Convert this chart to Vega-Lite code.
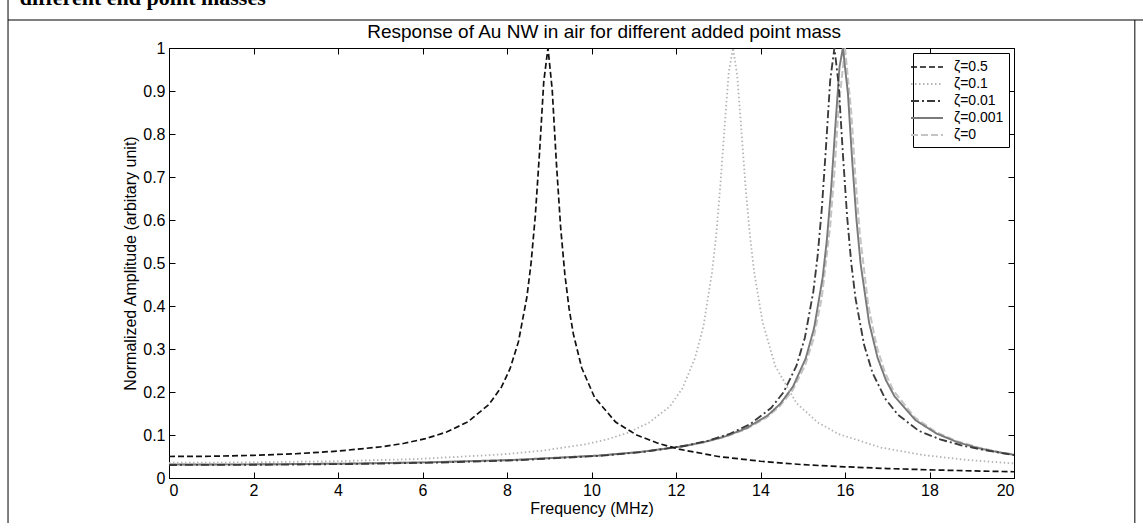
{
  "$schema": "https://vega.github.io/schema/vega-lite/v6.json",
  "width": 845,
  "height": 430,
  "autosize": {"type": "none"},
  "padding": {"left": 169, "top": 48, "right": 129, "bottom": 45},
  "background": "white",
  "config": {
    "view": {"stroke": "black", "strokeWidth": 1},
    "font": "Liberation Sans",
    "axis": {
      "grid": false,
      "domainColor": "black",
      "tickColor": "black",
      "labelColor": "black",
      "labelFont": "Liberation Sans",
      "labelFontSize": 16,
      "titleFont": "Liberation Sans",
      "titleFontSize": 16,
      "titleFontWeight": "normal",
      "titleColor": "black",
      "tickSize": -6,
      "labelPadding": 10
    },
    "legend": {
      "labelFont": "Liberation Sans",
      "labelFontSize": 14,
      "labelColor": "black"
    }
  },
  "resolve": {"axis": {"x": "independent", "y": "independent"}},
  "layer": [
    {
      "data": {
        "values": [
          {"s": "ζ=0", "f": 0, "a": 0.0313}, {"s": "ζ=0", "f": 2.15, "a": 0.0318}, {"s": "ζ=0", "f": 4.15, "a": 0.0334}, {"s": "ζ=0", "f": 6.15, "a": 0.0365}, {"s": "ζ=0", "f": 8.15, "a": 0.0419}, {"s": "ζ=0", "f": 10.15, "a": 0.0519}, {"s": "ζ=0", "f": 11.15, "a": 0.0603}, {"s": "ζ=0", "f": 12.15, "a": 0.0731}, {"s": "ζ=0", "f": 12.65, "a": 0.0825}, {"s": "ζ=0", "f": 13.15, "a": 0.0952}, {"s": "ζ=0", "f": 13.65, "a": 0.1133}, {"s": "ζ=0", "f": 14.15, "a": 0.1411}, {"s": "ζ=0", "f": 14.45, "a": 0.1661}, {"s": "ζ=0", "f": 14.75, "a": 0.2026}, {"s": "ζ=0", "f": 15.05, "a": 0.2606}, {"s": "ζ=0", "f": 15.25, "a": 0.322}, {"s": "ζ=0", "f": 15.45, "a": 0.4191}, {"s": "ζ=0", "f": 15.65, "a": 0.5863}, {"s": "ζ=0", "f": 15.75, "a": 0.7124}, {"s": "ζ=0", "f": 15.85, "a": 0.8627}, {"s": "ζ=0", "f": 16.0, "a": 1.0}, {"s": "ζ=0", "f": 16.15, "a": 0.8487}, {"s": "ζ=0", "f": 16.25, "a": 0.6954}, {"s": "ζ=0", "f": 16.35, "a": 0.5693}, {"s": "ζ=0", "f": 16.55, "a": 0.4024}, {"s": "ζ=0", "f": 16.75, "a": 0.3056}, {"s": "ζ=0", "f": 16.95, "a": 0.2444}, {"s": "ζ=0", "f": 17.15, "a": 0.2028}, {"s": "ζ=0", "f": 17.65, "a": 0.1409}, {"s": "ζ=0", "f": 18.15, "a": 0.1071}, {"s": "ζ=0", "f": 18.65, "a": 0.0858}, {"s": "ζ=0", "f": 19.15, "a": 0.0712}, {"s": "ζ=0", "f": 19.65, "a": 0.0607}, {"s": "ζ=0", "f": 20, "a": 0.055},

          {"s": "ζ=0.001", "f": 0, "a": 0.0313}, {"s": "ζ=0.001", "f": 2.17, "a": 0.0318}, {"s": "ζ=0.001", "f": 4.17, "a": 0.0334}, {"s": "ζ=0.001", "f": 6.17, "a": 0.0365}, {"s": "ζ=0.001", "f": 8.17, "a": 0.0421}, {"s": "ζ=0.001", "f": 10.17, "a": 0.0522}, {"s": "ζ=0.001", "f": 11.17, "a": 0.0607}, {"s": "ζ=0.001", "f": 12.17, "a": 0.074}, {"s": "ζ=0.001", "f": 12.67, "a": 0.0837}, {"s": "ζ=0.001", "f": 13.17, "a": 0.0969}, {"s": "ζ=0.001", "f": 13.67, "a": 0.116}, {"s": "ζ=0.001", "f": 14.17, "a": 0.1456}, {"s": "ζ=0.001", "f": 14.47, "a": 0.1727}, {"s": "ζ=0.001", "f": 14.77, "a": 0.2128}, {"s": "ζ=0.001", "f": 15.07, "a": 0.2781}, {"s": "ζ=0.001", "f": 15.27, "a": 0.3493}, {"s": "ζ=0.001", "f": 15.47, "a": 0.4654}, {"s": "ζ=0.001", "f": 15.57, "a": 0.553}, {"s": "ζ=0.001", "f": 15.67, "a": 0.6697}, {"s": "ζ=0.001", "f": 15.77, "a": 0.8153}, {"s": "ζ=0.001", "f": 15.87, "a": 0.956}, {"s": "ζ=0.001", "f": 15.95, "a": 1.0}, {"s": "ζ=0.001", "f": 16.07, "a": 0.8934}, {"s": "ζ=0.001", "f": 16.17, "a": 0.7383}, {"s": "ζ=0.001", "f": 16.27, "a": 0.6023}, {"s": "ζ=0.001", "f": 16.37, "a": 0.4979}, {"s": "ζ=0.001", "f": 16.57, "a": 0.3614}, {"s": "ζ=0.001", "f": 16.77, "a": 0.2801}, {"s": "ζ=0.001", "f": 16.97, "a": 0.2272}, {"s": "ζ=0.001", "f": 17.17, "a": 0.1904}, {"s": "ζ=0.001", "f": 17.67, "a": 0.1344}, {"s": "ζ=0.001", "f": 18.17, "a": 0.1031}, {"s": "ζ=0.001", "f": 18.67, "a": 0.083}, {"s": "ζ=0.001", "f": 19.17, "a": 0.0692}, {"s": "ζ=0.001", "f": 19.67, "a": 0.0591}, {"s": "ζ=0.001", "f": 20, "a": 0.054},

          {"s": "ζ=0.01", "f": 0, "a": 0.0303}, {"s": "ζ=0.01", "f": 2.25, "a": 0.0308}, {"s": "ζ=0.01", "f": 4.25, "a": 0.0325}, {"s": "ζ=0.01", "f": 6.25, "a": 0.0356}, {"s": "ζ=0.01", "f": 8.25, "a": 0.0413}, {"s": "ζ=0.01", "f": 10.25, "a": 0.0519}, {"s": "ζ=0.01", "f": 11.25, "a": 0.061}, {"s": "ζ=0.01", "f": 12.25, "a": 0.0755}, {"s": "ζ=0.01", "f": 12.75, "a": 0.0865}, {"s": "ζ=0.01", "f": 13.25, "a": 0.1018}, {"s": "ζ=0.01", "f": 13.75, "a": 0.1248}, {"s": "ζ=0.01", "f": 14.25, "a": 0.1627}, {"s": "ζ=0.01", "f": 14.55, "a": 0.2001}, {"s": "ζ=0.01", "f": 14.85, "a": 0.2606}, {"s": "ζ=0.01", "f": 15.05, "a": 0.3262}, {"s": "ζ=0.01", "f": 15.25, "a": 0.4333}, {"s": "ζ=0.01", "f": 15.35, "a": 0.5145}, {"s": "ζ=0.01", "f": 15.45, "a": 0.6249}, {"s": "ζ=0.01", "f": 15.55, "a": 0.7696}, {"s": "ζ=0.01", "f": 15.65, "a": 0.9256}, {"s": "ζ=0.01", "f": 15.75, "a": 1.0}, {"s": "ζ=0.01", "f": 15.85, "a": 0.9146}, {"s": "ζ=0.01", "f": 15.95, "a": 0.7536}, {"s": "ζ=0.01", "f": 16.05, "a": 0.6082}, {"s": "ζ=0.01", "f": 16.15, "a": 0.498}, {"s": "ζ=0.01", "f": 16.25, "a": 0.4172}, {"s": "ζ=0.01", "f": 16.45, "a": 0.3103}, {"s": "ζ=0.01", "f": 16.65, "a": 0.2449}, {"s": "ζ=0.01", "f": 16.95, "a": 0.1846}, {"s": "ζ=0.01", "f": 17.25, "a": 0.1474}, {"s": "ζ=0.01", "f": 17.75, "a": 0.1095}, {"s": "ζ=0.01", "f": 18.25, "a": 0.09}, {"s": "ζ=0.01", "f": 18.75, "a": 0.076}, {"s": "ζ=0.01", "f": 19.25, "a": 0.066}, {"s": "ζ=0.01", "f": 20, "a": 0.053},

          {"s": "ζ=0.1", "f": 0, "a": 0.0354}, {"s": "ζ=0.1", "f": 1.85, "a": 0.0362}, {"s": "ζ=0.1", "f": 3.85, "a": 0.0388}, {"s": "ζ=0.1", "f": 5.85, "a": 0.0441}, {"s": "ζ=0.1", "f": 7.85, "a": 0.0546}, {"s": "ζ=0.1", "f": 8.85, "a": 0.0637}, {"s": "ζ=0.1", "f": 9.85, "a": 0.0783}, {"s": "ζ=0.1", "f": 10.35, "a": 0.0893}, {"s": "ζ=0.1", "f": 10.85, "a": 0.1049}, {"s": "ζ=0.1", "f": 11.35, "a": 0.128}, {"s": "ζ=0.1", "f": 11.85, "a": 0.166}, {"s": "ζ=0.1", "f": 12.15, "a": 0.208}, {"s": "ζ=0.1", "f": 12.45, "a": 0.279}, {"s": "ζ=0.1", "f": 12.65, "a": 0.353}, {"s": "ζ=0.1", "f": 12.85, "a": 0.477}, {"s": "ζ=0.1", "f": 12.95, "a": 0.563}, {"s": "ζ=0.1", "f": 13.05, "a": 0.681}, {"s": "ζ=0.1", "f": 13.15, "a": 0.817}, {"s": "ζ=0.1", "f": 13.25, "a": 0.945}, {"s": "ζ=0.1", "f": 13.35, "a": 1.0}, {"s": "ζ=0.1", "f": 13.45, "a": 0.9353}, {"s": "ζ=0.1", "f": 13.55, "a": 0.805}, {"s": "ζ=0.1", "f": 13.65, "a": 0.6727}, {"s": "ζ=0.1", "f": 13.75, "a": 0.5642}, {"s": "ζ=0.1", "f": 13.85, "a": 0.4791}, {"s": "ζ=0.1", "f": 14.05, "a": 0.3621}, {"s": "ζ=0.1", "f": 14.35, "a": 0.2604}, {"s": "ζ=0.1", "f": 14.85, "a": 0.1743}, {"s": "ζ=0.1", "f": 15.35, "a": 0.1295}, {"s": "ζ=0.1", "f": 15.85, "a": 0.1022}, {"s": "ζ=0.1", "f": 16.85, "a": 0.0708}, {"s": "ζ=0.1", "f": 17.85, "a": 0.0534}, {"s": "ζ=0.1", "f": 18.85, "a": 0.0424}, {"s": "ζ=0.1", "f": 19.85, "a": 0.0348}, {"s": "ζ=0.1", "f": 20, "a": 0.034},

          {"s": "ζ=0.5", "f": 0, "a": 0.05}, {"s": "ζ=0.5", "f": 1, "a": 0.0506}, {"s": "ζ=0.5", "f": 2, "a": 0.0527}, {"s": "ζ=0.5", "f": 3, "a": 0.0564}, {"s": "ζ=0.5", "f": 4, "a": 0.0626}, {"s": "ζ=0.5", "f": 5.07, "a": 0.073}, {"s": "ζ=0.5", "f": 5.57, "a": 0.0808}, {"s": "ζ=0.5", "f": 6.07, "a": 0.0915}, {"s": "ζ=0.5", "f": 6.57, "a": 0.1068}, {"s": "ζ=0.5", "f": 7.07, "a": 0.1304}, {"s": "ζ=0.5", "f": 7.57, "a": 0.1707}, {"s": "ζ=0.5", "f": 7.87, "a": 0.2118}, {"s": "ζ=0.5", "f": 8.07, "a": 0.2536}, {"s": "ζ=0.5", "f": 8.27, "a": 0.3165}, {"s": "ζ=0.5", "f": 8.47, "a": 0.4203}, {"s": "ζ=0.5", "f": 8.57, "a": 0.5}, {"s": "ζ=0.5", "f": 8.67, "a": 0.6096}, {"s": "ζ=0.5", "f": 8.77, "a": 0.7569}, {"s": "ζ=0.5", "f": 8.87, "a": 0.9217}, {"s": "ζ=0.5", "f": 8.97, "a": 1.0}, {"s": "ζ=0.5", "f": 9.07, "a": 0.903}, {"s": "ζ=0.5", "f": 9.17, "a": 0.731}, {"s": "ζ=0.5", "f": 9.27, "a": 0.5824}, {"s": "ζ=0.5", "f": 9.37, "a": 0.4729}, {"s": "ζ=0.5", "f": 9.47, "a": 0.3937}, {"s": "ζ=0.5", "f": 9.57, "a": 0.3351}, {"s": "ζ=0.5", "f": 9.77, "a": 0.2557}, {"s": "ζ=0.5", "f": 10.07, "a": 0.188}, {"s": "ζ=0.5", "f": 10.57, "a": 0.13}, {"s": "ζ=0.5", "f": 11.07, "a": 0.1}, {"s": "ζ=0.5", "f": 11.57, "a": 0.081}, {"s": "ζ=0.5", "f": 12.07, "a": 0.067}, {"s": "ζ=0.5", "f": 13, "a": 0.05}, {"s": "ζ=0.5", "f": 14, "a": 0.039}, {"s": "ζ=0.5", "f": 15, "a": 0.031}, {"s": "ζ=0.5", "f": 16, "a": 0.026}, {"s": "ζ=0.5", "f": 17, "a": 0.022}, {"s": "ζ=0.5", "f": 18, "a": 0.019}, {"s": "ζ=0.5", "f": 19, "a": 0.0165}, {"s": "ζ=0.5", "f": 20, "a": 0.0145}
        ]
      },
      "mark": {"type": "line", "clip": true},
      "encoding": {
        "x": {
          "field": "f", "type": "quantitative",
          "scale": {"domain": [0, 20], "nice": false, "zero": false},
          "axis": {"orient": "bottom", "title": "Frequency (MHz)", "values": [0, 2, 4, 6, 8, 10, 12, 14, 16, 18, 20], "format": "d", "titlePadding": 2}
        },
        "y": {
          "field": "a", "type": "quantitative",
          "scale": {"domain": [0, 1], "nice": false, "zero": false},
          "axis": {"orient": "left", "title": "Normalized Amplitude (arbitary unit)", "values": [0, 0.1, 0.2, 0.3, 0.4, 0.5, 0.6, 0.7, 0.8, 0.9, 1], "format": ".1~f", "titlePadding": 4}
        },
        "color": {
          "field": "s", "type": "nominal",
          "scale": {"domain": ["ζ=0.5", "ζ=0.1", "ζ=0.01", "ζ=0.001", "ζ=0"], "range": ["#111111", "#b4b4b4", "#3a3a3a", "#7a7a7a", "#c4c4c4"]},
          "legend": {
            "title": null, "orient": "top-right", "offset": 5,
            "strokeColor": "black", "fillColor": "white", "padding": 5,
            "symbolType": "M-2,0H2", "symbolSize": 256, "rowPadding": 1,
            "labelOffset": 18, "labelFontSize": 14
          }
        },
        "strokeDash": {
          "field": "s", "type": "nominal",
          "scale": {"domain": ["ζ=0.5", "ζ=0.1", "ζ=0.01", "ζ=0.001", "ζ=0"], "range": [[6, 3], [1.5, 2.5], [8, 3, 2, 3], [1, 0], [7, 3]]},
          "legend": {"title": null}
        },
        "strokeWidth": {
          "field": "s", "type": "nominal",
          "scale": {"domain": ["ζ=0.5", "ζ=0.1", "ζ=0.01", "ζ=0.001", "ζ=0"], "range": [1.7, 2, 1.6, 2.2, 4]},
          "legend": {"title": null}
        },
        "order": {"field": "f", "type": "quantitative"}
      }
    },
    {
      "data": {"values": [{}]},
      "mark": {"type": "text", "text": "different end point masses", "font": "Liberation Serif", "fontWeight": "bold", "fontSize": 22, "align": "left", "baseline": "alphabetic", "color": "black", "clip": false},
      "encoding": {
        "x": {"datum": -3.53, "type": "quantitative", "scale": {"domain": [0, 20], "nice": false, "zero": false}, "axis": {"orient": "top", "labels": false, "title": null, "values": [0, 2, 4, 6, 8, 10, 12, 14, 16, 18, 20], "domain": false}},
        "y": {"datum": 1.1, "type": "quantitative", "scale": {"domain": [0, 1], "nice": false, "zero": false}, "axis": {"orient": "right", "labels": false, "title": null, "values": [0, 0.1, 0.2, 0.3, 0.4, 0.5, 0.6, 0.7, 0.8, 0.9, 1], "domain": false}}
      }
    },
    {
      "data": {"values": [{}]},
      "mark": {"type": "text", "text": "Response of Au NW in air for different added point mass", "font": "Liberation Sans", "fontSize": 19, "align": "center", "baseline": "alphabetic", "color": "black", "clip": false},
      "encoding": {
        "x": {"datum": 10.3, "type": "quantitative", "scale": {"domain": [0, 20], "nice": false, "zero": false}, "axis": null},
        "y": {"datum": 1.0233, "type": "quantitative", "scale": {"domain": [0, 1], "nice": false, "zero": false}, "axis": null}
      }
    },
    {
      "data": {"values": [{}]},
      "mark": {"type": "rule", "color": "black", "strokeWidth": 1, "clip": false},
      "encoding": {
        "x": {"datum": -3.81, "type": "quantitative", "scale": {"domain": [0, 20], "nice": false, "zero": false}, "axis": null},
        "y": {"datum": 1.1116, "type": "quantitative", "scale": {"domain": [0, 1], "nice": false, "zero": false}, "axis": null},
        "y2": {"datum": -0.1047}
      }
    },
    {
      "data": {"values": [{}]},
      "mark": {"type": "rule", "color": "black", "strokeWidth": 1, "clip": false},
      "encoding": {
        "x": {"datum": 22.86, "type": "quantitative", "scale": {"domain": [0, 20], "nice": false, "zero": false}, "axis": null},
        "y": {"datum": 1.0651, "type": "quantitative", "scale": {"domain": [0, 1], "nice": false, "zero": false}, "axis": null},
        "y2": {"datum": -0.1047}
      }
    },
    {
      "data": {"values": [{}]},
      "mark": {"type": "rule", "color": "black", "strokeWidth": 1, "clip": false},
      "encoding": {
        "x": {"datum": -3.81, "type": "quantitative", "scale": {"domain": [0, 20], "nice": false, "zero": false}, "axis": null},
        "x2": {"datum": 23.1},
        "y": {"datum": 1.0651, "type": "quantitative", "scale": {"domain": [0, 1], "nice": false, "zero": false}, "axis": null}
      }
    }
  ]
}
